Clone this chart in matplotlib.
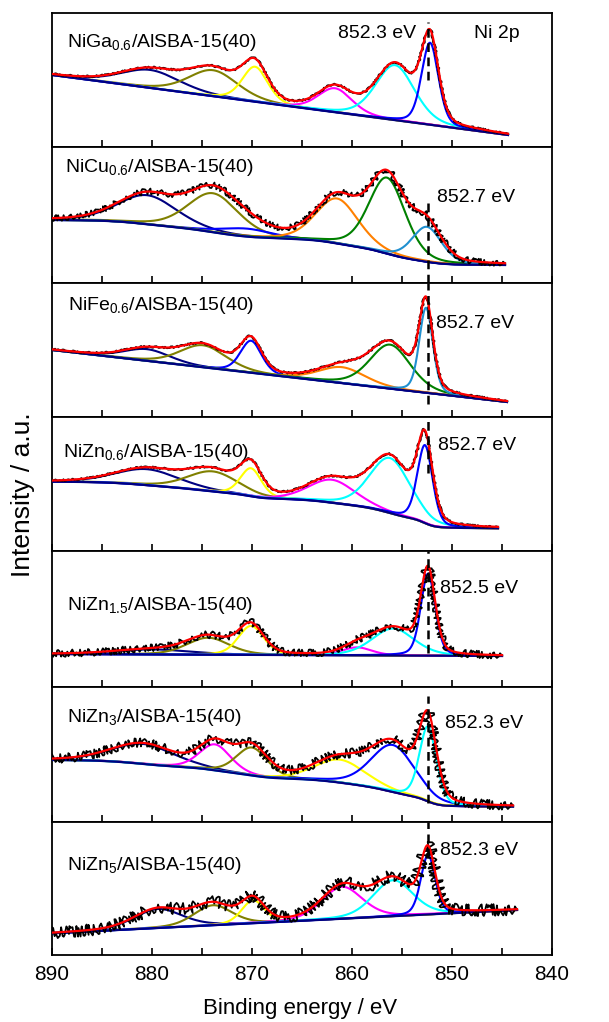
import numpy as np
import matplotlib
matplotlib.use("Agg")
import matplotlib.pyplot as plt

plt.rcParams['font.family'] = ['Liberation Sans', 'DejaVu Sans']
plt.rcParams['mathtext.fontset'] = 'custom'
plt.rcParams['mathtext.rm'] = 'Liberation Sans'
plt.rcParams['mathtext.it'] = 'Liberation Sans:italic'
plt.rcParams['mathtext.bf'] = 'Liberation Sans:bold'

# ---------------- data (intensity in arbitrary units) ----------------
samples = [r"NiGa$_{\mathregular{0.6}}$/AlSBA-15(40)",
           r"NiCu$_{\mathregular{0.6}}$/AlSBA-15(40)",
           r"NiFe$_{\mathregular{0.6}}$/AlSBA-15(40)",
           r"NiZn$_{\mathregular{0.6}}$/AlSBA-15(40)",
           r"NiZn$_{\mathregular{1.5}}$/AlSBA-15(40)",
           r"NiZn$_{\mathregular{3}}$/AlSBA-15(40)",
           r"NiZn$_{\mathregular{5}}$/AlSBA-15(40)"]
peak_labels = ["852.3 eV", "852.7 eV", "852.7 eV", "852.7 eV",
               "852.5 eV", "852.3 eV", "852.3 eV"]
e_low = [844.4, 844.7, 844.5, 845.4, 845.0, 843.9, 843.5]   # lowest BE recorded
base_high = [72, 63, 67, 69.3, 33, 62, 21.7]               # background at 890 eV
base_low = [12, 18, 15, 22.7, 31, 15.3, 45]                # background at low BE end
shirley_frac = [0, 1, 0, 1, 0, 1, 0]                       # share of Shirley step

ga_center = [880.2, 873.9, 869.7, 861.7, 855.7, 852.2]
ga_height = [18, 26, 35, 24, 55, 82]
ga_fwhm = [7.0, 5.8, 3.0, 4.0, 4.6, 2.0]

cu_center = [880.5, 873.9, 870.5, 861.5, 856.5, 852.5]
cu_height = [29, 39, 8, 45, 76, 35]
cu_fwhm = [7.0, 6.0, 6.0, 5.0, 4.3, 3.5]

fe_center = [880.5, 874.9, 870.1, 861.0, 856.2, 852.6]
fe_height = [11.7, 22, 32, 16, 44, 85]
fe_fwhm = [5.5, 5.5, 2.5, 5.5, 4.8, 1.6]

zn06_center = [880.5, 873.9, 870.1, 862.0, 856.2, 852.7]
zn06_height = [16, 20, 28, 23, 55, 78]
zn06_fwhm = [7.5, 6.0, 2.5, 5.5, 4.8, 1.8]

zn15_center = [879.9, 874.4, 870.1, 859.5, 855.9, 852.4]
zn15_height = [5, 17, 29, 8, 27, 82]
zn15_fwhm = [9.0, 5.0, 3.0, 3.5, 5.0, 1.7]

zn3_center = [880.9, 873.7, 870.0, 861.2, 855.9, 852.4]
zn3_height = [20, 26, 28, 23, 47, 75]
zn3_fwhm = [7.5, 3.7, 3.7, 6.0, 5.2, 2.0]

zn5_center = [879.4, 873.9, 869.9, 861.0, 855.9, 852.4]
zn5_height = [19, 20, 23, 32, 36, 59.5]
zn5_fwhm = [5.7, 4.5, 2.7, 4.8, 4.7, 1.7]

# ---------------- styles ----------------
NAVY, OLIVE, YEL, MAG, CYA, BLU = '#000080', '#808000', '#ffff00', '#ff00ff', '#00ffff', '#0000ff'
ORA, GRN, STB = '#ff8000', '#008000', '#2090d0'
panel_colors = [
    [NAVY, OLIVE, YEL, MAG, CYA, BLU],
    [NAVY, OLIVE, BLU, ORA, GRN, STB],
    [NAVY, OLIVE, BLU, ORA, GRN, STB],
    [NAVY, OLIVE, YEL, MAG, CYA, BLU],
    [NAVY, OLIVE, YEL, MAG, CYA, BLU],
    [NAVY, MAG, OLIVE, YEL, BLU, CYA],
    [NAVY, OLIVE, YEL, MAG, CYA, BLU],
]
panels = [(ga_center, ga_height, ga_fwhm), (cu_center, cu_height, cu_fwhm),
          (fe_center, fe_height, fe_fwhm), (zn06_center, zn06_height, zn06_fwhm),
          (zn15_center, zn15_height, zn15_fwhm), (zn3_center, zn3_height, zn3_fwhm),
          (zn5_center, zn5_height, zn5_fwhm)]
noise_px = [1.0, 3.0, 1.0, 1.0, 3.6, 4.6, 5.8]
tops_px = [13, 147, 283, 417, 551, 687, 822]
bottom_last = 955
label_pos = [(0.03, 0.749), (0.026, 0.818), (0.032, 0.799), (0.022, 0.704),
             (0.03, 0.566), (0.03, 0.743), (0.03, 0.639)]
elabel_pos = [(0.572, 0.811), (0.77, 0.598), (0.769, 0.662), (0.773, 0.754),
              (0.776, 0.689), (0.786, 0.694), (0.776, 0.752)]
dash_span = [(0.50, 0.93), (0.0, 0.60), (0.10, 1.0), (0.58, 1.0),
             (0.25, 1.0), (0.14, 0.93), (0.74, 1.0)]
dash_x = 852.4
ETA = 0.3

W, H = 609, 1022
fig = plt.figure(figsize=(W / 100, H / 100), dpi=100)
L, R = 52, 552

def pv(x, c, a, w):
    g = np.exp(-4 * np.log(2) * ((x - c) / w) ** 2)
    l = 1.0 / (1 + 4 * ((x - c) / w) ** 2)
    return a * (ETA * l + (1 - ETA) * g)

bots = tops_px[1:] + [bottom_last]
for i in range(7):
    top, bot = tops_px[i], bots[i]
    hpx = bot - top
    ax = fig.add_axes([L / W, 1 - bot / H, (R - L) / W, hpx / H])
    x = np.linspace(e_low[i], 890, 1200)
    cen, hei, fw = panels[i]
    comps = [pv(x, c, a, w) for c, a, w in zip(cen, hei, fw)]
    total = np.sum(comps, axis=0)
    cum = np.concatenate([[0], np.cumsum(0.5 * (total[1:] + total[:-1]) * np.diff(x))])
    cum /= cum[-1]
    lin = (x - x[0]) / (x[-1] - x[0])
    f = shirley_frac[i]
    base = base_low[i] + (base_high[i] - base_low[i]) * ((1 - f) * lin + f * cum)
    for comp, col in zip(comps, panel_colors[i]):
        ax.plot(x, base + comp, color=col, lw=1.5, zorder=2)
    ax.plot(x, base, color=NAVY, lw=1.6, zorder=3)
    raw, = ax.plot(x, base + total, color='black', lw=1.3, zorder=4)
    raw.set_sketch_params(scale=noise_px[i], length=6, randomness=5)
    ax.plot(x, base + total, color='#ff0000', lw=1.6, zorder=5)
    ax.axvline(dash_x, ymin=dash_span[i][0], ymax=dash_span[i][1], color='black',
               lw=1.8, dashes=(3.5, 2.2), zorder=6)
    ax.set_xlim(890, 840)
    ax.set_ylim(0, hpx)
    ax.set_yticks([])
    ax.set_xticks(np.arange(840, 891, 10))
    ax.set_xticks(np.arange(845, 890, 10), minor=True)
    ax.tick_params(axis='x', which='both', direction='in', length=5, width=1.2,
                   top=False, labelsize=15, pad=7)
    if i < 6:
        ax.tick_params(axis='x', which='both', labelbottom=False)
    for s in ax.spines.values():
        s.set_linewidth(1.3)
    ax.text(label_pos[i][0], label_pos[i][1], samples[i], transform=ax.transAxes,
            fontsize=14, va='baseline', ha='left')
    ax.text(elabel_pos[i][0], elabel_pos[i][1], peak_labels[i], transform=ax.transAxes,
            fontsize=14, va='baseline', ha='left')
    if i == 0:
        ax.text(0.843, 0.811, "Ni 2p", transform=ax.transAxes, fontsize=14,
                va='baseline', ha='left')

fig.text(300 / W, 1 - 1014 / H, "Binding energy / eV", fontsize=16, ha='center',
         va='baseline')
fig.text(23 / W, 1 - 495 / H, "Intensity / a.u.", fontsize=19, ha='center', va='center',
         rotation=90)

fig.savefig("out.png", dpi=100)
